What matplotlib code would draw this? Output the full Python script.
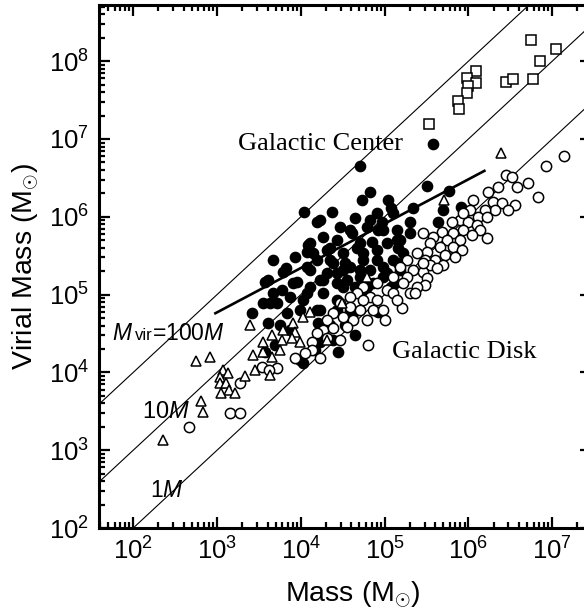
import numpy as np
import matplotlib.pyplot as plt
from matplotlib.ticker import LogLocator, NullFormatter

plt.rcParams['font.family'] = ['Liberation Sans', 'DejaVu Sans']
plt.rcParams['mathtext.fontset'] = 'custom'
plt.rcParams['mathtext.rm'] = 'Liberation Sans'
plt.rcParams['mathtext.it'] = 'Liberation Sans:italic'
plt.rcParams['mathtext.sf'] = 'Liberation Sans'

# log10(Mass), log10(Virial mass)
# Galactic Center clouds (filled circles)
gc_points = np.array([
    (4.71, 6.65), (5.58, 6.94), (5.50, 6.39), (5.77, 6.33), (5.70, 6.09), (5.91, 6.13), (5.64, 5.93), (4.04, 6.06), (4.37, 6.06), (4.83, 6.32),
    (4.73, 6.22), (5.04, 6.22), (5.07, 6.11), (5.34, 6.11), (4.23, 5.96), (4.65, 5.98), (4.47, 5.87), (4.61, 5.79), (4.79, 5.87), (4.91, 6.05),
    (4.92, 5.83), (4.85, 5.68), (5.15, 5.83), (5.30, 5.93), (5.03, 5.66), (5.16, 5.60), (5.30, 5.79), (3.93, 5.48), (4.09, 5.64), (4.26, 5.74),
    (4.43, 5.70), (4.74, 5.53), (4.91, 5.44), (5.10, 5.44), (5.22, 5.53), (4.98, 5.23), (4.07, 5.35), (4.38, 5.41), (4.55, 5.19), (4.71, 5.32),
    (4.23, 5.19), (4.79, 5.10), (5.07, 5.10), (5.18, 5.32), (3.67, 5.44), (3.79, 5.29), (3.57, 5.16), (3.67, 5.02), (3.63, 4.89), (3.42, 4.76),
    (3.87, 4.97), (3.95, 5.16), (4.11, 5.32), (4.07, 5.55), (4.11, 5.66), (4.19, 5.44), (4.35, 5.44), (4.50, 5.53), (4.67, 5.60), (4.11, 5.10),
    (4.26, 5.19), (4.43, 5.28), (4.59, 5.36), (4.74, 5.44), (4.91, 5.57), (4.26, 5.02), (4.50, 5.10), (4.71, 5.23), (4.98, 5.36), (4.03, 4.93),
    (4.43, 4.93), (4.74, 5.02), (4.98, 5.83), (4.83, 5.96), (5.10, 6.05), (5.15, 5.70), (4.62, 4.76), (4.19, 4.80), (3.83, 4.76), (3.61, 4.64),
    (3.75, 4.61), (3.55, 4.89), (3.72, 4.89), (3.61, 5.19), (3.91, 5.15), (4.07, 5.02), (4.23, 4.80), (4.20, 4.64), (4.43, 4.80), (4.59, 4.80),
    (4.23, 4.39), (4.17, 4.29), (4.44, 4.26), (4.38, 4.42), (4.65, 4.48), (4.03, 4.12), (3.69, 4.35), (3.57, 4.26), (4.92, 4.78), (3.82, 5.34),
    (4.19, 5.93), (4.35, 5.60), (4.53, 5.41), (4.65, 5.10), (4.83, 5.32), (3.78, 5.06), (3.99, 4.80), (4.35, 4.61), (4.53, 4.61), (3.87, 4.55),
    (4.97, 5.93), (4.59, 5.83), (5.18, 5.70), (4.15, 5.53), (4.31, 5.57), (4.71, 5.66), (4.31, 5.28), (4.50, 5.32), (5.03, 5.28), (4.43, 5.15),
    (4.86, 5.15), (5.12, 5.15), (5.16, 5.41), (3.99, 4.16),
])

# Galactic Disk clouds (open circles)
disk_points = np.array([
    (7.14, 6.78), (6.93, 6.65), (6.45, 6.54), (6.52, 6.51), (6.58, 6.38), (6.71, 6.43), (6.83, 6.25), (6.35, 6.38), (6.23, 6.32), (6.05, 6.22),
    (6.29, 6.19), (6.40, 6.18), (6.55, 6.15), (6.47, 6.09), (6.32, 6.09), (6.20, 6.09), (6.02, 6.09), (6.11, 6.00), (6.22, 6.00), (5.90, 5.96),
    (5.99, 5.93), (5.80, 5.93), (6.10, 5.89), (5.94, 5.83), (6.14, 5.83), (5.82, 5.79), (6.04, 5.77), (6.22, 5.73), (5.68, 5.80), (5.58, 5.74),
    (5.74, 5.70), (5.90, 5.70), (5.46, 5.79), (5.54, 5.66), (5.66, 5.61), (5.82, 5.61), (5.92, 5.57), (5.51, 5.55), (5.72, 5.51), (5.84, 5.48),
    (5.60, 5.45), (5.48, 5.45), (5.54, 5.38), (5.70, 5.38), (5.62, 5.34), (5.46, 5.29), (5.51, 5.21), (5.48, 5.12), (5.94, 6.05), (5.39, 5.53),
    (5.27, 5.45), (5.46, 5.41), (5.18, 5.36), (5.34, 5.32), (5.27, 5.23), (5.10, 5.23), (5.22, 5.15), (5.39, 5.10), (4.74, 5.10), (4.91, 5.15),
    (5.03, 5.06), (5.30, 5.02), (4.83, 4.97), (4.67, 5.02), (4.59, 4.97), (4.74, 4.93), (4.91, 4.93), (4.47, 4.89), (4.59, 4.84), (4.71, 4.80),
    (4.86, 4.80), (4.98, 4.80), (4.38, 4.76), (4.50, 4.71), (4.62, 4.67), (4.79, 4.67), (4.31, 4.67), (4.26, 4.55), (4.38, 4.57), (4.55, 4.58),
    (4.19, 4.51), (4.13, 4.39), (4.31, 4.44), (4.47, 4.42), (4.80, 4.35), (5.00, 4.67), (4.13, 4.29), (4.23, 4.19), (3.93, 4.19), (4.05, 4.25),
    (3.72, 4.06), (3.54, 4.07), (5.21, 4.83), (5.36, 5.02), (3.27, 3.86), (3.16, 3.48), (3.27, 3.48), (2.67, 3.30), (3.62, 4.03), (5.10, 5.02),
    (5.15, 4.93),
])

# triangles
tri_points = np.array([
    (6.39, 6.82), (5.71, 6.22), (2.75, 4.15), (2.92, 4.20), (3.07, 4.03), (3.13, 3.99), (3.04, 3.94), (3.04, 3.86), (3.11, 3.86), (3.14, 3.77),
    (3.05, 3.74), (3.21, 3.74), (3.33, 3.95), (2.81, 3.63), (2.83, 3.49), (2.36, 3.13), (3.39, 4.61), (4.11, 4.78), (4.03, 4.71), (3.91, 4.63),
    (3.93, 4.52), (3.79, 4.55), (3.66, 4.48), (3.55, 4.39), (3.78, 4.42), (3.90, 4.44), (3.99, 4.39), (3.75, 4.29), (3.66, 4.20), (3.43, 4.22),
    (3.55, 4.26), (3.45, 4.03), (3.63, 3.97), (4.31, 4.42), (4.49, 4.89), (4.79, 5.23),
])

# squares
sq_points = np.array([
    (6.75, 8.27), (7.05, 8.16), (6.85, 8.00), (6.09, 7.87), (5.98, 7.78), (6.09, 7.72), (6.00, 7.68), (5.98, 7.59), (5.88, 7.49), (5.89, 7.39),
    (5.53, 7.19), (6.45, 7.73), (6.53, 7.77), (6.77, 7.77),
])

# Mvir = k * M reference lines
ratio_lines = [1, 10, 100]
# fitted relation for the Galactic Center clouds (end points)
fit_log_mass = [2.98, 6.19]
fit_log_vir = [4.76, 6.59]

x_range = np.array([39.0, 2.9e7])
y_range = (1e2, 5.27e8)

fig = plt.figure(figsize=(5.84, 6.09), dpi=100)
ax = fig.add_axes([0.1695, 0.133, 0.8425, 0.8588])
ax.set_xscale('log')
ax.set_yscale('log')

for k in ratio_lines:
    ax.plot(x_range, k * x_range, color='black', lw=0.8, zorder=1)

ax.plot(10 ** np.array(fit_log_mass), 10 ** np.array(fit_log_vir), color='black', lw=1.9, zorder=2)

ms = 7.4
ax.plot(10 ** gc_points[:, 0], 10 ** gc_points[:, 1], 'o', ms=ms, mfc='black', mec='black', ls='none', zorder=3)
ax.plot(10 ** disk_points[:, 0], 10 ** disk_points[:, 1], 'o', ms=ms, mfc='white', mec='black', mew=1.1, ls='none', zorder=4)
ax.plot(10 ** tri_points[:, 0], 10 ** tri_points[:, 1], '^', ms=ms, mfc='white', mec='black', mew=1.1, ls='none', zorder=4)
ax.plot(10 ** sq_points[:, 0], 10 ** sq_points[:, 1], 's', ms=6.8, mfc='white', mec='black', mew=1.1, ls='none', zorder=4)

ax.set_xlim(*x_range)
ax.set_ylim(*y_range)

for axis in [ax.xaxis, ax.yaxis]:
    axis.set_major_locator(LogLocator(base=10, numticks=20))
    axis.set_minor_locator(LogLocator(base=10, subs=np.arange(2, 10), numticks=20))
    axis.set_minor_formatter(NullFormatter())

ax.tick_params(which='both', direction='in', top=True, right=True, width=1.6)
ax.tick_params(which='major', length=8, labelsize=18.5, pad=7)
ax.tick_params(which='minor', length=4)
for s in ax.spines.values():
    s.set_linewidth(2.2)

ax.set_xlabel(r'Mass (M$_{\odot}$)', fontsize=20.5)
ax.set_ylabel(r'Virial Mass (M$_{\odot}$)', fontsize=20.5)
ax.xaxis.set_label_coords(0.516, -0.098)
ax.yaxis.set_label_coords(-0.118, 0.5)

ax.text(0.2825, 0.7228, 'Galactic Center', transform=ax.transAxes, family='Liberation Serif', fontsize=19, va='baseline')
ax.text(0.5955, 0.325, 'Galactic Disk', transform=ax.transAxes, family='Liberation Serif', fontsize=19, va='baseline')

ax.text(0.0264, 0.3595, '$M$', transform=ax.transAxes, fontsize=16.5, va='baseline')
ax.text(0.0732, 0.3595, 'vir', transform=ax.transAxes, fontsize=12, va='baseline')
ax.text(0.1077, 0.3595, '=100$M$', transform=ax.transAxes, fontsize=16.5, va='baseline')
ax.text(0.0874, 0.2103, '10$M$', transform=ax.transAxes, fontsize=17, va='baseline')
ax.text(0.1037, 0.0593, '1$M$', transform=ax.transAxes, fontsize=16.5, va='baseline')

fig.savefig('out.png', dpi=100)
